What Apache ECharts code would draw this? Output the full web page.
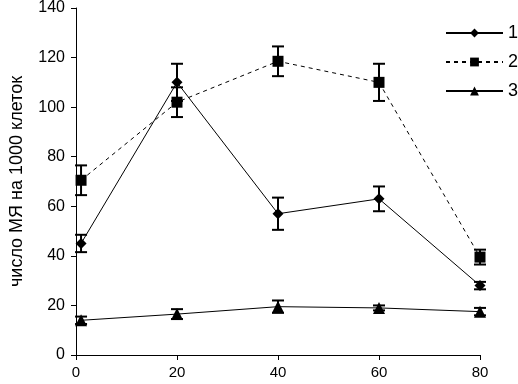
<!DOCTYPE html>
<html>
<head>
<meta charset="utf-8">
<script src="https://cdn.jsdelivr.net/npm/echarts@6/dist/echarts.min.js"></script>
<style>
  html, body { margin: 0; padding: 0; background: #fff; }
  #chart { width: 518px; height: 384px; }
</style>
</head>
<body>
<div id="chart"></div>
<script>
// сутки наблюдения и значения трёх серий (среднее и ошибка)
const days = [1, 20, 40, 60, 80];
const xTicks = [0, 20, 40, 60, 80];
const s1 = [45, 110, 57, 63, 28];
const e1 = [3.5, 7.5, 6.5, 5, 1.5];
const s2 = [70.5, 102, 118.5, 110, 39.5];
const e2 = [6, 6, 6, 7.5, 3];
const s3 = [14, 16.5, 19.5, 19, 17.5];
const e3 = [1.5, 2, 2.5, 1, 1.5];

const font = 'Liberation Sans, Arial, sans-serif';
const chart = echarts.init(document.getElementById('chart'));

function pts(vals) {
  return days.map((d, i) => [d, vals[i]]);
}

function errBars(vals, errs) {
  return {
    type: 'custom',
    silent: true,
    z: 1,
    renderItem: (params, api) => {
      const top = api.coord([api.value(0), api.value(2)]);
      const bot = api.coord([api.value(0), api.value(1)]);
      const w = 6;
      const st = { stroke: '#000', lineWidth: 2 };
      return {
        type: 'group',
        children: [
          { type: 'line', shape: { x1: top[0], y1: top[1], x2: bot[0], y2: bot[1] }, style: st },
          { type: 'line', shape: { x1: top[0] - w, y1: top[1], x2: top[0] + w, y2: top[1] }, style: st },
          { type: 'line', shape: { x1: bot[0] - w, y1: bot[1], x2: bot[0] + w, y2: bot[1] }, style: st }
        ]
      };
    },
    data: days.map((d, i) => [d, vals[i] - errs[i], vals[i] + errs[i]])
  };
}

function lineSeries(name, vals, symbol, size, type) {
  return {
    name,
    type: 'line',
    data: pts(vals),
    symbol,
    symbolSize: size,
    z: 3,
    itemStyle: { color: '#000' },
    lineStyle: { color: '#000', width: 1, type }
  };
}

chart.setOption({
  animation: false,
  textStyle: { fontFamily: font },
  grid: { left: 72, right: 38, top: 6, bottom: 29 },
  legend: {
    orient: 'vertical',
    left: 445,
    top: 24,
    padding: 0,
    itemWidth: 57,
    itemHeight: 11,
    itemGap: 11,
    textStyle: { fontSize: 18, lineHeight: 18, color: '#000', fontFamily: font },
    data: ['1', '2', '3']
  },
  xAxis: {
    type: 'value',
    min: 0,
    max: 80,
    interval: 20,
    axisLine: { lineStyle: { color: '#000', width: 1 } },
    axisTick: { length: 5, lineStyle: { color: '#000' } },
    axisLabel: {
      color: '#000', fontSize: 15, margin: 10, fontFamily: font,
      customValues: xTicks
    },
    splitLine: { show: false }
  },
  yAxis: {
    type: 'value',
    min: 0,
    max: 140,
    interval: 20,
    name: 'число МЯ на 1000 клеток',
    nameLocation: 'middle',
    nameGap: 50,
    nameTextStyle: { color: '#000', fontSize: 18, fontFamily: font },
    axisLine: { show: true, lineStyle: { color: '#000', width: 1 } },
    axisTick: { show: true, length: 5, lineStyle: { color: '#000' } },
    axisLabel: { color: '#000', fontSize: 16, margin: 11, fontFamily: font },
    splitLine: { show: false }
  },
  series: [
    errBars(s1, e1),
    errBars(s2, e2),
    errBars(s3, e3),
    lineSeries('1', s1, 'diamond', 11, 'solid'),
    lineSeries('2', s2, 'rect', 11, [4, 4]),
    lineSeries('3', s3, 'triangle', 12, 'solid')
  ]
});
</script>
</body>
</html>
